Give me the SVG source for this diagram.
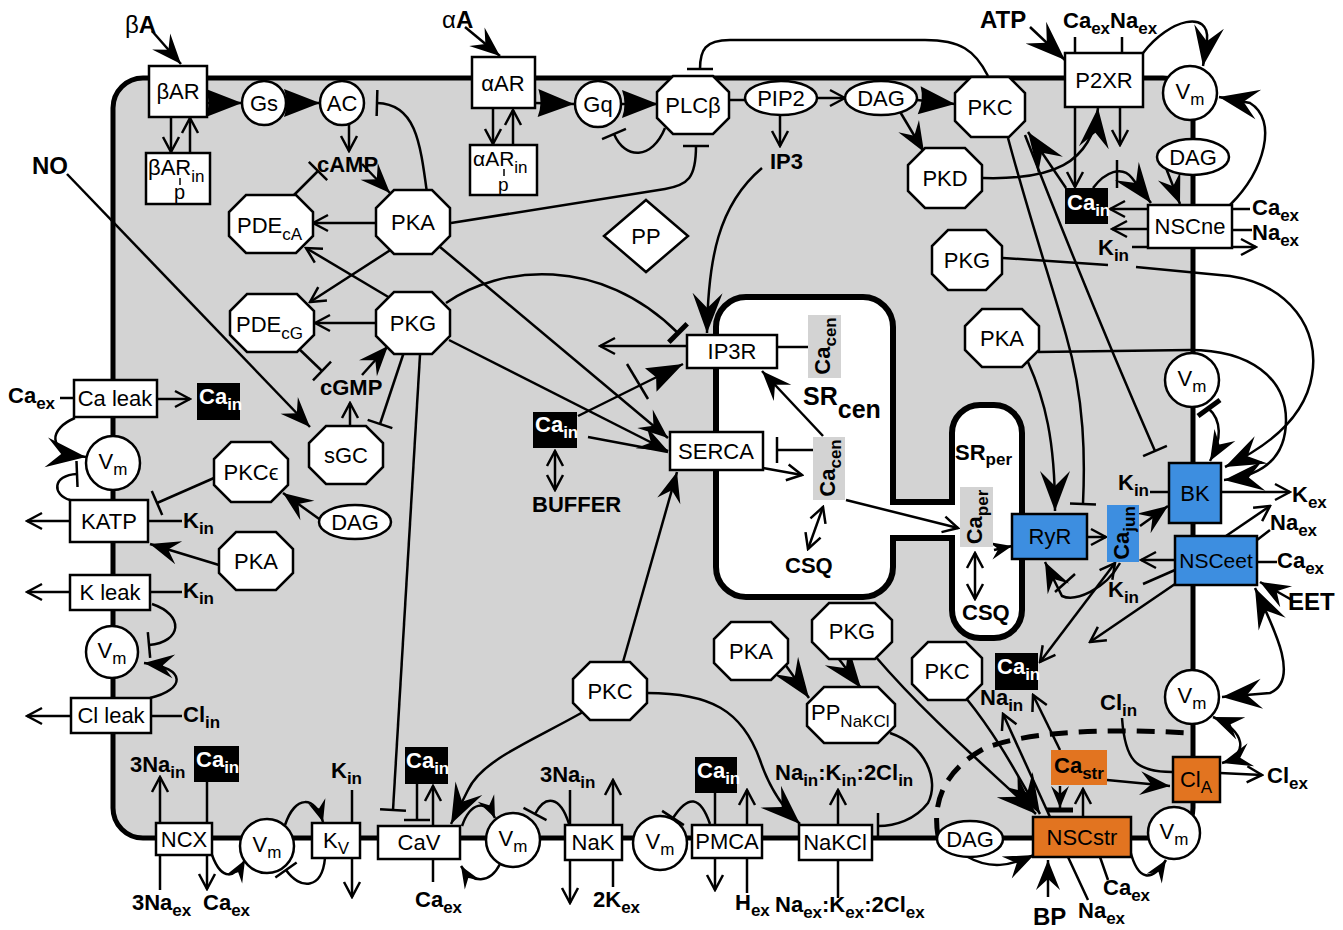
<svg xmlns="http://www.w3.org/2000/svg" width="1343" height="930" viewBox="0 0 1343 930">
<defs>
<style>
text{font-family:"Liberation Sans",Arial,"DejaVu Sans",sans-serif;font-size:22px;fill:#000}
.m{text-anchor:middle}
.b{font-weight:bold}
.w{fill:#fff}
.s{font-size:17px}
.n{fill:#fff;stroke:#000;stroke-width:2.5}
.bl{fill:#3d8ee0;stroke:#000;stroke-width:2.5}
.or{fill:#e27420;stroke:#000;stroke-width:2.5}
.k{fill:#000}
.g{fill:#d3d3d3}
.c path{fill:none;stroke:#000;stroke-width:2.5}
</style>
<marker id="o" viewBox="-18 -10 20 20" refX="0" refY="0" markerWidth="20" markerHeight="20" markerUnits="userSpaceOnUse" orient="auto"><path d="M-15,-8 L0,0 L-15,8" fill="none" stroke="#000" stroke-width="2.5"/></marker>
<marker id="os" viewBox="-18 -10 20 20" refX="0" refY="0" markerWidth="20" markerHeight="20" markerUnits="userSpaceOnUse" orient="auto-start-reverse"><path d="M-15,-8 L0,0 L-15,8" fill="none" stroke="#000" stroke-width="2.5"/></marker>
<marker id="a" viewBox="-32 -14 33 28" refX="0" refY="0" markerWidth="33" markerHeight="28" markerUnits="userSpaceOnUse" orient="auto"><path d="M0,0 L-30,-12 L-19,0 L-30,12 Z" fill="#000"/></marker>
<marker id="A" viewBox="-42 -17 43 34" refX="0" refY="0" markerWidth="43" markerHeight="34" markerUnits="userSpaceOnUse" orient="auto"><path d="M0,0 L-40,-15 L-25,0 L-40,15 Z" fill="#000"/></marker>
<marker id="As" viewBox="-42 -17 43 34" refX="0" refY="0" markerWidth="43" markerHeight="34" markerUnits="userSpaceOnUse" orient="auto-start-reverse"><path d="M0,0 L-40,-15 L-25,0 L-40,15 Z" fill="#000"/></marker>
<marker id="as" viewBox="-32 -14 33 28" refX="0" refY="0" markerWidth="33" markerHeight="28" markerUnits="userSpaceOnUse" orient="auto-start-reverse"><path d="M0,0 L-30,-12 L-19,0 L-30,12 Z" fill="#000"/></marker>
<marker id="a2" viewBox="-24 -11 25 22" refX="0" refY="0" markerWidth="25" markerHeight="22" markerUnits="userSpaceOnUse" orient="auto"><path d="M0,0 L-22,-9 L-14,0 L-22,9 Z" fill="#000"/></marker>
<marker id="T" viewBox="-38 -16 39 32" refX="0" refY="0" markerWidth="39" markerHeight="32" markerUnits="userSpaceOnUse" orient="auto"><path d="M0,0 L-36,-14 Q-31,0 -36,14 Z" fill="#000"/></marker>
<marker id="t" viewBox="-38 -15 39 30" refX="0" refY="0" markerWidth="39" markerHeight="30" markerUnits="userSpaceOnUse" orient="auto"><path d="M0,0 L-36,-13 L-30,0 L-36,13 Z" fill="#000"/></marker>
<marker id="x" viewBox="-3 -15 6 30" refX="0" refY="0" markerWidth="6" markerHeight="30" markerUnits="userSpaceOnUse" orient="auto"><path d="M0,-13 V13" stroke="#000" stroke-width="2.5"/></marker>
<marker id="X" viewBox="-4 -15 8 30" refX="0" refY="0" markerWidth="8" markerHeight="30" markerUnits="userSpaceOnUse" orient="auto"><path d="M0,-13 V13" stroke="#000" stroke-width="5"/></marker>
</defs>

<g id="cell">
<rect x="113" y="78" width="1080" height="760" rx="30" fill="#d3d3d3" stroke="#000" stroke-width="5"/>
</g>
<g id="SR">
<path d="M746,297 H863 A30,30 0 0 1 893,327 V502 H952 V433 A28,28 0 0 1 980,405 H994 A28,28 0 0 1 1022,433 V610 A28,28 0 0 1 994,638 H980 A28,28 0 0 1 952,610 V538 H893 V567 A30,30 0 0 1 863,597 H746 A30,30 0 0 1 716,567 V327 A30,30 0 0 1 746,297 Z" fill="#fff" stroke="#000" stroke-width="6"/>
</g>

<g id="connectors" class="c">
<path d="M152,31 L181,64" marker-end="url(#a)"/>
<path d="M171,117 L171,152" marker-end="url(#o)"/>
<path d="M190,153 L190,118" marker-end="url(#o)"/>
<path d="M207,103 L242,103" marker-end="url(#T)"/>
<path d="M287,103 L320,103" marker-end="url(#T)"/>
<path d="M427,193 C420,140 415,104 377,103" marker-end="url(#x)"/>
<path d="M349,125 L349,151" marker-end="url(#o)"/>
<path d="M362,164 L390,193" marker-end="url(#a)"/>
<path d="M292,197 L318,171" marker-end="url(#x)"/>
<path d="M377,223 L313,223" marker-end="url(#o)"/>
<path d="M392,249 L310,302" marker-end="url(#o)"/>
<path d="M390,298 L306,248" marker-end="url(#o)"/>
<path d="M376,323 L315,323" marker-end="url(#o)"/>
<path d="M296,346 L322,371" marker-end="url(#x)"/>
<path d="M362,375 L388,346" marker-end="url(#a)"/>
<path d="M350,427 L350,403" marker-end="url(#o)"/>
<path d="M404,352 L380,424" marker-end="url(#x)"/>
<path d="M67,174 L310,427" marker-end="url(#a)"/>
<path d="M420,355 L393,810" marker-end="url(#x)"/>
<path d="M440,247 L668,438" marker-end="url(#a)"/>
<path d="M449,340 L668,451" marker-end="url(#a)"/>
<path d="M451,223 L665,189 C688,185 696,178 696,146" marker-end="url(#x)"/>
<path d="M535,103 L574,104" marker-end="url(#T)"/>
<path d="M621,104 L658,104" marker-end="url(#T)"/>
<path d="M465,27 L500,56" marker-end="url(#a)"/>
<path d="M493,108 L493,144" marker-end="url(#o)"/>
<path d="M513,145 L513,110" marker-end="url(#o)"/>
<path d="M665,128 C652,160 625,160 614,134" marker-end="url(#x)"/>
<path d="M729,100 L746,100"/>
<path d="M817,98 L845,98" marker-end="url(#o)"/>
<path d="M780,116 L780,146" marker-end="url(#o)"/>
<path d="M917,100 L955,104" marker-end="url(#T)"/>
<path d="M899,110 L924,152" marker-end="url(#a)"/>
<path d="M988,76 C975,50 960,40 925,40 L730,40 C705,40 700,50 700,69" marker-end="url(#x)"/>
<path d="M762,168 C718,205 708,260 707,333" marker-end="url(#A)"/>
<path d="M983,178 C1050,180 1092,165 1098,108" marker-end="url(#A)"/>
<path d="M1030,27 L1065,60" marker-end="url(#A)"/>
<path d="M1075,37 V53 M1122,37 V53"/>
<path d="M1143,53 C1170,18 1210,10 1207,40 L1203,66" marker-end="url(#A)"/>
<path d="M1075,107 V187" marker-end="url(#o)"/>
<path d="M1120,107 V145" marker-end="url(#o)"/>
<path d="M1117,160 V188"/>
<path d="M1093,188 C1105,172 1122,165 1132,178 L1151,203" marker-end="url(#A)"/>
<path d="M1066,188 L1028,132" marker-end="url(#A)"/>
<path d="M1166,168 L1180,204" marker-end="url(#a)"/>
<path d="M1148,209 L1110,209" marker-end="url(#o)"/>
<path d="M1148,229 L1112,229" marker-end="url(#o)"/>
<path d="M1132,247 H1148"/>
<path d="M1232,209 H1250 M1232,230 H1252"/>
<path d="M1232,247 H1256" marker-end="url(#o)"/>
<path d="M1230,205 C1265,170 1278,120 1250,103 L1219,97" marker-end="url(#A)"/>
<path d="M1003,258 L1108,265 M1136,267 L1230,276 C1290,285 1320,330 1312,375 C1305,420 1265,448 1225,467" marker-end="url(#A)"/>
<path d="M1038,352 L1190,350 C1250,350 1286,378 1286,420 C1286,458 1262,476 1224,480" marker-end="url(#A)"/>
<path d="M1028,362 C1045,400 1055,440 1055,511" marker-end="url(#A)"/>
<path d="M1008,138 C1030,220 1052,285 1066,335 C1085,400 1085,460 1083,504" marker-end="url(#x)"/>
<path d="M1025,135 C1062,230 1102,330 1155,451" marker-end="url(#x)"/>
<path d="M1208,408 C1222,420 1222,440 1210,461" marker-end="url(#a)"/>
<path d="M1198,416 L1220,400" style="stroke-width:5"/>
<path d="M1150,492 H1169"/>
<path d="M1221,492 H1290" marker-end="url(#o)"/>
<path d="M1087,537 H1106" marker-end="url(#o)"/>
<path d="M1140,526 L1168,506" marker-end="url(#a)"/>
<path d="M994,550 L1012,546" marker-end="url(#a2)"/>
<path d="M1120,563 C1105,590 1075,602 1062,596 L1045,562" marker-end="url(#a)"/>
<path d="M1055,592 L1075,574"/>
<path d="M1175,560 H1141" marker-end="url(#o)"/>
<path d="M1143,584 L1175,570"/>
<path d="M1226,536 L1270,506" marker-end="url(#o)"/>
<path d="M1257,540 L1270,530 M1257,562 H1277"/>
<path d="M1292,600 L1260,582" marker-end="url(#a)"/>
<path d="M1255,588 C1275,630 1300,680 1270,693 L1222,697" marker-start="url(#As)" marker-end="url(#A)"/>
<path d="M1175,584 L1090,642" marker-end="url(#o)"/>
<path d="M1115,563 L1040,662" marker-start="url(#os)" marker-end="url(#o)"/>
<path d="M1122,718 C1125,760 1135,772 1172,772"/>
<path d="M1220,773 L1262,775" marker-end="url(#o)"/>
<path d="M1213,717 C1245,730 1250,755 1222,763" marker-start="url(#as)" marker-end="url(#a)"/>
<path d="M1107,780 L1170,786" marker-end="url(#a)"/>
<path d="M1060,786 V808" marker-end="url(#a2)"/>
<path d="M1047,810 H1073" style="stroke-width:5"/>
<path d="M1083,817 V789" marker-end="url(#o)"/>
<path d="M1060,750 L1033,695" marker-end="url(#o)"/>
<path d="M1050,817 L1003,714" marker-end="url(#o)"/>
<path d="M875,656 C930,720 990,770 1036,814" marker-end="url(#A)"/>
<path d="M966,698 C1000,740 1020,780 1040,814" marker-end="url(#A)"/>
<path d="M966,856 C990,870 1010,866 1034,855" marker-end="url(#a)"/>
<path d="M1048,897 V860" marker-end="url(#a)"/>
<path d="M1068,857 L1088,900 M1100,857 L1108,880"/>
<path d="M1130,850 C1138,882 1152,882 1166,860" marker-end="url(#a2)"/>
<path d="M938,836 C932,800 945,770 985,748 C1020,735 1080,727 1190,733" style="stroke-width:5;stroke-dasharray:18 11"/>
<path d="M890,733 C925,745 940,780 928,803 C915,820 895,826 878,826" marker-end="url(#x)"/>
<path d="M782,660 L809,698" marker-end="url(#A)"/>
<path d="M832,650 L861,688" marker-end="url(#A)"/>
<path d="M647,693 C710,693 742,710 760,760 C770,790 785,810 800,824" marker-end="url(#A)"/>
<path d="M623,662 L677,472" marker-end="url(#a)"/>
<path d="M583,712 C530,742 482,760 468,790 L451,824" marker-end="url(#A)"/>
<path d="M462,826 C470,803 486,798 495,818" marker-end="url(#a2)"/>
<path d="M500,864 C490,884 472,884 461,866" marker-end="url(#a2)"/>
<path d="M417,784 V820" marker-end="url(#x)"/>
<path d="M433,826 V786" marker-end="url(#o)"/>
<path d="M433,860 V882"/>
<path d="M569,824 C560,795 545,795 535,814" marker-end="url(#x)"/>
<path d="M570,790 V824"/>
<path d="M613,825 V780" marker-end="url(#o)"/>
<path d="M570,860 V903" marker-end="url(#o)"/>
<path d="M613,860 V887"/>
<path d="M710,824 C700,795 688,795 673,818" marker-end="url(#x)"/>
<path d="M715,793 V890" marker-end="url(#o)"/>
<path d="M747,893 V790" marker-end="url(#o)"/>
<path d="M838,825 V790" marker-end="url(#o)"/>
<path d="M838,860 V898"/>
<path d="M352,790 V823"/>
<path d="M352,858 V897" marker-end="url(#o)"/>
<path d="M285,825 C295,795 315,795 323,822" marker-end="url(#a2)"/>
<path d="M325,858 C322,890 300,890 286,870" marker-end="url(#x)"/>
<path d="M212,855 C222,882 235,878 245,860" marker-end="url(#a2)"/>
<path d="M160,823 V777" marker-end="url(#o)"/>
<path d="M160,855 V890"/>
<path d="M207,782 V823"/>
<path d="M207,855 V889" marker-end="url(#o)"/>
<path d="M60,398 H74"/>
<path d="M157,399 H190" marker-end="url(#o)"/>
<path d="M75,418 C50,428 44,452 86,457" marker-end="url(#A)"/>
<path d="M70,500 C52,495 52,475 77,474" marker-end="url(#x)"/>
<path d="M70,521 H27" marker-end="url(#o)"/>
<path d="M148,521 H182"/>
<path d="M214,478 L157,503" marker-end="url(#x)"/>
<path d="M322,521 L283,493" marker-end="url(#a)"/>
<path d="M219,565 L150,544" marker-end="url(#a)"/>
<path d="M70,592 H27" marker-end="url(#o)"/>
<path d="M150,592 H182"/>
<path d="M152,604 C185,615 182,642 149,645" marker-end="url(#x)"/>
<path d="M150,698 C185,690 188,668 144,663" marker-end="url(#a)"/>
<path d="M71,716 H27" marker-end="url(#o)"/>
<path d="M151,716 H182"/>
<path d="M687,346 H600" marker-end="url(#o)"/>
<path d="M578,416 L683,364" marker-end="url(#t)"/>
<path d="M627,364 L648,399"/>
<path d="M446,303 C500,265 600,255 678,333" marker-end="url(#X)"/>
<path d="M588,437 L668,452"/>
<path d="M555,451 V490" marker-start="url(#os)" marker-end="url(#o)"/>
<path d="M763,468 L802,475" marker-end="url(#o)"/>
<path d="M813,450 H777" marker-end="url(#x)"/>
<path d="M777,347 H808"/>
<path d="M823,436 L762,371" marker-end="url(#a)"/>
<path d="M823,507 L808,549" marker-start="url(#os)" marker-end="url(#o)"/>
<path d="M846,500 L958,528" marker-end="url(#o)"/>
<path d="M975,553 V599" marker-start="url(#os)" marker-end="url(#o)"/>
</g>

<g id="bAR"><rect class="n" x="149" y="66" width="58" height="51"/><text class="m" x="178" y="99">βAR</text></g>
<g id="bARin"><rect class="n" x="146" y="153" width="64" height="51"/><text x="148" y="175">βAR<tspan class="s" dy="7">in</tspan></text><text x="174" y="199" style="font-size:20px">p</text><path d="M180,178 V185" stroke="#000" stroke-width="1.5"/></g>
<g id="Gs"><circle class="n" cx="264" cy="103" r="22"/><text class="m" x="264" y="111">Gs</text></g>
<g id="AC"><circle class="n" cx="342" cy="103" r="22"/><text class="m" x="342" y="111">AC</text></g>
<g id="aAR"><rect class="n" x="472" y="57" width="63" height="51"/><text class="m" x="503" y="91">αAR</text></g>
<g id="aARin"><rect class="n" x="470" y="145" width="67" height="50"/><text x="473" y="166" style="font-size:21px">αAR<tspan class="s" dy="7">in</tspan></text><text x="498" y="191" style="font-size:19px">p</text><path d="M504,169 V176" stroke="#000" stroke-width="1.5"/></g>
<g id="Gq"><circle class="n" cx="598" cy="104" r="23"/><text class="m" x="598" y="112">Gq</text></g>
<g id="PLCb"><polygon class="n" points="673,76 713,76 729,92 729,118 713,134 673,134 657,118 657,92"/><text class="m" x="693" y="113">PLCβ</text></g>
<g id="PIP2"><ellipse class="n" cx="781" cy="98" rx="36" ry="17"/><text class="m" x="781" y="106">PIP2</text></g>
<g id="DAG1"><ellipse class="n" cx="881" cy="98" rx="36" ry="17"/><text class="m" x="881" y="106">DAG</text></g>
<g id="PKC1"><polygon class="n" points="971,77 1009,77 1025,93 1025,121 1009,137 971,137 955,121 955,93"/><text class="m" x="990" y="115">PKC</text></g>
<g id="PKD"><polygon class="n" points="925,148 965,148 982,165 982,191 965,208 925,208 908,191 908,165"/><text class="m" x="945" y="186">PKD</text></g>
<g id="P2XR"><rect class="n" x="1065" y="53" width="78" height="54"/><text class="m" x="1104" y="88">P2XR</text></g>
<g id="Vm1"><circle class="n" cx="1190" cy="93" r="27"/><text class="m" x="1190" y="99">V<tspan class="s" dy="6">m</tspan></text></g>
<g id="DAG2"><ellipse class="n" cx="1193" cy="157" rx="36" ry="18"/><text class="m" x="1193" y="165">DAG</text></g>
<g id="Cain1"><rect class="k" x="1065" y="188" width="43" height="36"/><text class="b w" x="1067" y="210">Ca<tspan class="s" dy="6">in</tspan></text></g>
<g id="NSCne"><rect class="n" x="1148" y="205" width="84" height="43"/><text class="m" x="1190" y="234">NSCne</text></g>
<g id="PKA1"><polygon class="n" points="394,190 432,190 450,208 450,236 432,254 394,254 376,236 376,208"/><text class="m" x="413" y="230">PKA</text></g>
<g id="PDEcA"><polygon class="n" points="246,195 296,195 313,212 313,236 296,253 246,253 229,236 229,212"/><text x="237" y="233">PDE<tspan class="s" dy="7">cA</tspan></text></g>
<g id="PDEcG"><polygon class="n" points="247,294 297,294 314,311 314,335 297,352 247,352 230,335 230,311"/><text x="236" y="332">PDE<tspan class="s" dy="7">cG</tspan></text></g>
<g id="PKG1"><polygon class="n" points="394,292 432,292 450,310 450,336 432,354 394,354 376,336 376,310"/><text class="m" x="413" y="331">PKG</text></g>
<g id="sGC"><polygon class="n" points="326,426 366,426 383,443 383,467 366,484 326,484 309,467 309,443"/><text class="m" x="346" y="463">sGC</text></g>
<g id="PP"><polygon class="n" points="646,200 688,236 646,272 604,236"/><text class="m" x="646" y="244">PP</text></g>
<g id="PKG2"><polygon class="n" points="948,230 986,230 1002,246 1002,274 986,290 948,290 932,274 932,246"/><text class="m" x="967" y="268">PKG</text></g>
<g id="PKA2"><polygon class="n" points="982,309 1022,309 1039,326 1039,350 1022,367 982,367 965,350 965,326"/><text class="m" x="1002" y="346">PKA</text></g>
<g id="Vm2"><circle class="n" cx="1192" cy="380" r="27"/><text class="m" x="1192" y="386">V<tspan class="s" dy="6">m</tspan></text></g>
<g id="IP3R"><rect class="n" x="687" y="335" width="90" height="33"/><text class="m" x="732" y="359">IP3R</text></g>
<g id="SERCA"><rect class="n" x="670" y="432" width="93" height="38"/><text class="m" x="716" y="459">SERCA</text></g>
<g id="Cain2"><rect class="k" x="533" y="412" width="44" height="36"/><text class="b w" x="535" y="432">Ca<tspan class="s" dy="6">in</tspan></text></g>
<g id="Cacen1"><rect class="g" x="808" y="315" width="33" height="63"/><text class="m b" transform="translate(830,346) rotate(-90)">Ca<tspan class="s" dy="6">cen</tspan></text></g>
<g id="Cacen2"><rect class="g" x="813" y="437" width="32" height="63"/><text class="m b" transform="translate(835,468) rotate(-90)">Ca<tspan class="s" dy="6">cen</tspan></text></g>
<g id="Caper"><rect class="g" x="960" y="487" width="33" height="60"/><text class="m b" transform="translate(982,517) rotate(-90)">Ca<tspan class="s" dy="6">per</tspan></text></g>
<g id="RyR"><rect class="bl" x="1012" y="514" width="75" height="45"/><text class="m" x="1050" y="544">RyR</text></g>
<g id="Cajun"><rect x="1107" y="505" width="32" height="57" fill="#3d8ee0"/><text class="m b" transform="translate(1129,533) rotate(-90)">Ca<tspan class="s" dy="6">jun</tspan></text></g>
<g id="BK"><rect class="bl" x="1169" y="463" width="52" height="60"/><text class="m" x="1195" y="501">BK</text></g>
<g id="NSCeet"><rect class="bl" x="1175" y="536" width="82" height="49"/><text class="m" x="1216" y="568" style="font-size:21px">NSCeet</text></g>
<g id="CaLeak"><rect class="n" x="74" y="380" width="83" height="37"/><text class="m" x="115" y="406">Ca leak</text></g>
<g id="Cain3"><rect class="k" x="197" y="383" width="43" height="37"/><text class="b w" x="199" y="404">Ca<tspan class="s" dy="6">in</tspan></text></g>
<g id="Vm3"><circle class="n" cx="113" cy="463" r="27"/><text class="m" x="113" y="469">V<tspan class="s" dy="6">m</tspan></text></g>
<g id="KATP"><rect class="n" x="70" y="500" width="78" height="42"/><text class="m" x="109" y="529">KATP</text></g>
<g id="PKCe"><polygon class="n" points="231,442 271,442 288,459 288,485 271,502 231,502 214,485 214,459"/><text class="m" x="251" y="480">PKCϵ</text></g>
<g id="DAG3"><ellipse class="n" cx="355" cy="522" rx="36" ry="17"/><text class="m" x="355" y="530">DAG</text></g>
<g id="PKA3"><polygon class="n" points="236,532 276,532 293,549 293,573 276,590 236,590 219,573 219,549"/><text class="m" x="256" y="569">PKA</text></g>
<g id="KLeak"><rect class="n" x="70" y="575" width="80" height="35"/><text class="m" x="110" y="600">K leak</text></g>
<g id="Vm4"><circle class="n" cx="112" cy="652" r="26"/><text class="m" x="112" y="658">V<tspan class="s" dy="6">m</tspan></text></g>
<g id="ClLeak"><rect class="n" x="71" y="698" width="80" height="35"/><text class="m" x="111" y="723">Cl leak</text></g>
<g id="Cain4"><rect class="k" x="194" y="746" width="45" height="36"/><text class="b w" x="196" y="767">Ca<tspan class="s" dy="6">in</tspan></text></g>
<g id="NCX"><rect class="n" x="156" y="823" width="56" height="32"/><text class="m" x="184" y="847">NCX</text></g>
<g id="Vm5"><circle class="n" cx="267" cy="846" r="27"/><text class="m" x="267" y="852">V<tspan class="s" dy="6">m</tspan></text></g>
<g id="KV"><rect class="n" x="312" y="823" width="48" height="35"/><text class="m" x="336" y="848">K<tspan class="s" dy="6">V</tspan></text></g>
<g id="Cain5"><rect class="k" x="405" y="747" width="43" height="37"/><text class="b w" x="406" y="768">Ca<tspan class="s" dy="6">in</tspan></text></g>
<g id="CaV"><rect class="n" x="378" y="826" width="82" height="33"/><text class="m" x="419" y="850">CaV</text></g>
<g id="Vm6"><circle class="n" cx="513" cy="840" r="27"/><text class="m" x="513" y="846">V<tspan class="s" dy="6">m</tspan></text></g>
<g id="PKC2"><polygon class="n" points="590,662 630,662 647,679 647,703 630,720 590,720 573,703 573,679"/><text class="m" x="610" y="699">PKC</text></g>
<g id="NaK"><rect class="n" x="565" y="825" width="57" height="35"/><text class="m" x="593" y="850">NaK</text></g>
<g id="Vm7"><circle class="n" cx="660" cy="843" r="27"/><text class="m" x="660" y="849">V<tspan class="s" dy="6">m</tspan></text></g>
<g id="Cain6"><rect class="k" x="695" y="757" width="42" height="36"/><text class="b w" x="697" y="778">Ca<tspan class="s" dy="6">in</tspan></text></g>
<g id="PMCA"><rect class="n" x="692" y="825" width="70" height="33"/><text class="m" x="727" y="849">PMCA</text></g>
<g id="PKA4"><polygon class="n" points="731,622 771,622 788,639 788,663 771,680 731,680 714,663 714,639"/><text class="m" x="751" y="659">PKA</text></g>
<g id="PKG3"><polygon class="n" points="829,603 875,603 892,620 892,642 875,659 829,659 812,642 812,620"/><text class="m" x="852" y="639">PKG</text></g>
<g id="PPNaKCl"><polygon class="n" points="824,687 878,687 895,704 895,726 878,743 824,743 807,726 807,704"/><text x="811" y="720">PP<tspan class="s" dy="7">NaKCl</tspan></text></g>
<g id="NaKCl"><rect class="n" x="799" y="825" width="73" height="35"/><text class="m" x="835" y="850">NaKCl</text></g>
<g id="PKC3"><polygon class="n" points="928,642 966,642 982,658 982,684 966,700 928,700 912,684 912,658"/><text class="m" x="947" y="679">PKC</text></g>
<g id="Cain7"><rect class="k" x="995" y="653" width="43" height="37"/><text class="b w" x="997" y="674">Ca<tspan class="s" dy="6">in</tspan></text></g>
<g id="DAG4"><ellipse class="n" cx="970" cy="839" rx="33" ry="18"/><text class="m" x="970" y="847">DAG</text></g>
<g id="Castr"><rect x="1051" y="750" width="56" height="35" fill="#e27420"/><text class="b" x="1054" y="773">Ca<tspan class="s" dy="6">str</tspan></text></g>
<g id="NSCstr"><rect class="or" x="1033" y="817" width="98" height="40"/><text class="m" x="1082" y="845">NSCstr</text></g>
<g id="ClA"><rect class="or" x="1173" y="757" width="47" height="45"/><text class="m" x="1196" y="787">Cl<tspan class="s" dy="6">A</tspan></text></g>
<g id="Vm8"><circle class="n" cx="1192" cy="697" r="27"/><text class="m" x="1192" y="703">V<tspan class="s" dy="6">m</tspan></text></g>
<g id="Vm9"><circle class="n" cx="1174" cy="833" r="26"/><text class="m" x="1174" y="839">V<tspan class="s" dy="6">m</tspan></text></g>

<g id="labels">
<text x="125" y="33" style="font-size:24px">β<tspan class="b">A</tspan></text>
<text x="442" y="28" style="font-size:24px">α<tspan class="b">A</tspan></text>
<text class="b" x="32" y="174" style="font-size:24px">NO</text>
<text class="b" x="980" y="28" style="font-size:24px">ATP</text>
<text class="b" x="1063" y="28">Ca<tspan class="s" dy="6">ex</tspan><tspan dy="-6">Na</tspan><tspan class="s" dy="6">ex</tspan></text>
<text class="b" x="317" y="172">cAMP</text>
<text class="b" x="320" y="395">cGMP</text>
<text class="b" x="770" y="169">IP3</text>
<text class="b" x="532" y="512">BUFFER</text>
<text class="b" x="785" y="573">CSQ</text>
<text class="b" x="962" y="620">CSQ</text>
<text class="b" x="803" y="405" style="font-size:25px">SR<tspan dy="13">cen</tspan></text>
<text class="b" x="955" y="460">SR<tspan class="s" dy="5">per</tspan></text>
<text class="b" x="1098" y="255">K<tspan class="s" dy="6">in</tspan></text>
<text class="b" x="1252" y="215">Ca<tspan class="s" dy="6">ex</tspan></text>
<text class="b" x="1252" y="240">Na<tspan class="s" dy="6">ex</tspan></text>
<text class="b" x="1118" y="490">K<tspan class="s" dy="6">in</tspan></text>
<text class="b" x="1292" y="502">K<tspan class="s" dy="6">ex</tspan></text>
<text class="b" x="1270" y="530">Na<tspan class="s" dy="6">ex</tspan></text>
<text class="b" x="1277" y="568">Ca<tspan class="s" dy="6">ex</tspan></text>
<text class="b" x="1288" y="610" style="font-size:24px">EET</text>
<text class="b" x="1108" y="597">K<tspan class="s" dy="6">in</tspan></text>
<text class="b" x="1100" y="710">Cl<tspan class="s" dy="6">in</tspan></text>
<text class="b" x="1267" y="783">Cl<tspan class="s" dy="6">ex</tspan></text>
<text class="b" x="980" y="705">Na<tspan class="s" dy="6">in</tspan></text>
<text class="b" x="1033" y="925" style="font-size:24px">BP</text>
<text class="b" x="1078" y="918">Na<tspan class="s" dy="6">ex</tspan></text>
<text class="b" x="1103" y="895">Ca<tspan class="s" dy="6">ex</tspan></text>
<text class="b" x="775" y="780">Na<tspan class="s" dy="6">in</tspan><tspan dy="-6">:K</tspan><tspan class="s" dy="6">in</tspan><tspan dy="-6">:2Cl</tspan><tspan class="s" dy="6">in</tspan></text>
<text class="b" x="775" y="912">Na<tspan class="s" dy="6">ex</tspan><tspan dy="-6">:K</tspan><tspan class="s" dy="6">ex</tspan><tspan dy="-6">:2Cl</tspan><tspan class="s" dy="6">ex</tspan></text>
<text class="b" x="735" y="910">H<tspan class="s" dy="6">ex</tspan></text>
<text class="b" x="593" y="907">2K<tspan class="s" dy="6">ex</tspan></text>
<text class="b" x="540" y="782">3Na<tspan class="s" dy="6">in</tspan></text>
<text class="b" x="331" y="778">K<tspan class="s" dy="6">in</tspan></text>
<text class="b" x="415" y="907">Ca<tspan class="s" dy="6">ex</tspan></text>
<text class="b" x="132" y="910">3Na<tspan class="s" dy="6">ex</tspan></text>
<text class="b" x="203" y="910">Ca<tspan class="s" dy="6">ex</tspan></text>
<text class="b" x="130" y="772">3Na<tspan class="s" dy="6">in</tspan></text>
<text class="b" x="8" y="403">Ca<tspan class="s" dy="6">ex</tspan></text>
<text class="b" x="183" y="528">K<tspan class="s" dy="6">in</tspan></text>
<text class="b" x="183" y="598">K<tspan class="s" dy="6">in</tspan></text>
<text class="b" x="183" y="722">Cl<tspan class="s" dy="6">in</tspan></text>
</g>
</svg>
